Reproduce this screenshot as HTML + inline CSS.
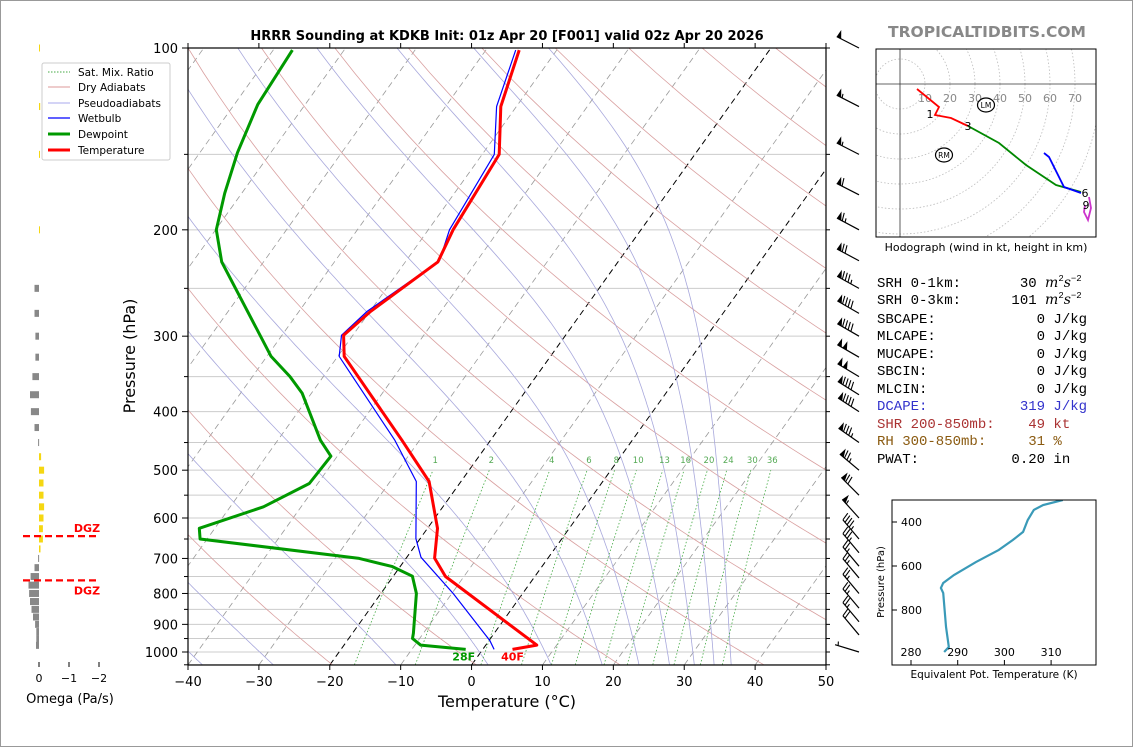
<!DOCTYPE html>
<html><head><meta charset="utf-8"><style>
html,body{margin:0;padding:0;background:#fff}
svg{display:block;font-family:"DejaVu Sans","Liberation Sans",sans-serif}
</style></head><body>
<svg id="s" width="1134" height="748" viewBox="0 0 1134 748">
<defs>
<clipPath id="mainclip"><rect x="188" y="48" width="638" height="617"/></clipPath>
<clipPath id="hodoclip"><rect x="876" y="49" width="220" height="188"/></clipPath>
<clipPath id="thclip"><rect x="892" y="500" width="204" height="165"/></clipPath>
</defs>
<rect x="0.5" y="0.5" width="1132" height="746" fill="#fff" stroke="#999"/>
<g id="bg" clip-path="url(#mainclip)"></g>
<g id="profiles" clip-path="url(#mainclip)"></g>
<rect x="188" y="48" width="638" height="617" fill="none" stroke="#000" stroke-width="1.2"/>
<g id="axes"></g>
<text x="507" y="40" text-anchor="middle" font-size="13" font-weight="bold">HRRR Sounding at KDKB Init: 01z Apr 20 [F001] valid 02z Apr 20 2026</text>
<text x="987" y="37" text-anchor="middle" font-size="15.5" font-weight="bold" fill="#888">TROPICALTIDBITS.COM</text>
<text x="507" y="707" text-anchor="middle" font-size="16">Temperature (°C)</text>
<text transform="translate(135,356) rotate(-90)" text-anchor="middle" font-size="16">Pressure (hPa)</text>
<g id="omega"></g>
<g id="barbs"></g>
<g id="hodo"></g>
<g id="theta"></g>
<g>
<rect x="42" y="63" width="128" height="97" rx="2" fill="#fff" stroke="#ccc"/>
<line x1="48" y1="72" x2="70" y2="72" stroke="#4a4" stroke-width="1" stroke-dasharray="1.5,1.5"/>
<text x="78" y="76" font-size="10.5">Sat. Mix. Ratio</text>
<line x1="48" y1="87" x2="70" y2="87" stroke="#d99" stroke-width="1"/>
<text x="78" y="91" font-size="10.5">Dry Adiabats</text>
<line x1="48" y1="103" x2="70" y2="103" stroke="#aae" stroke-width="1"/>
<text x="78" y="107" font-size="10.5">Pseudoadiabats</text>
<line x1="48" y1="118" x2="70" y2="118" stroke="#00f" stroke-width="1.2"/>
<text x="78" y="122" font-size="10.5">Wetbulb</text>
<line x1="48" y1="134" x2="70" y2="134" stroke="#090" stroke-width="3"/>
<text x="78" y="138" font-size="10.5">Dewpoint</text>
<line x1="48" y1="150" x2="70" y2="150" stroke="#f00" stroke-width="3"/>
<text x="78" y="154" font-size="10.5">Temperature</text>
</g>
<g font-family="Liberation Mono, DejaVu Sans Mono, monospace" font-size="14">
<text x="877" y="287" xml:space="preserve">SRH 0-1km:       30 <tspan font-style="italic" font-family="DejaVu Serif,serif">m</tspan><tspan font-size="9" dy="-6">2</tspan><tspan dy="6" font-style="italic" font-family="DejaVu Serif,serif">s</tspan><tspan font-size="9" dy="-6">−2</tspan></text>
<text x="877" y="304" xml:space="preserve">SRH 0-3km:      101 <tspan font-style="italic" font-family="DejaVu Serif,serif">m</tspan><tspan font-size="9" dy="-6">2</tspan><tspan dy="6" font-style="italic" font-family="DejaVu Serif,serif">s</tspan><tspan font-size="9" dy="-6">−2</tspan></text>
<text x="877" y="323" xml:space="preserve">SBCAPE:            0 J/kg</text>
<text x="877" y="340" xml:space="preserve">MLCAPE:            0 J/kg</text>
<text x="877" y="358" xml:space="preserve">MUCAPE:            0 J/kg</text>
<text x="877" y="375" xml:space="preserve">SBCIN:             0 J/kg</text>
<text x="877" y="393" xml:space="preserve">MLCIN:             0 J/kg</text>
<text x="877" y="410" xml:space="preserve" fill="#33c">DCAPE:           319 J/kg</text>
<text x="877" y="428" xml:space="preserve" fill="#a33">SHR 200-850mb:    49 kt</text>
<text x="877" y="445" xml:space="preserve" fill="#8a5a10">RH 300-850mb:     31 %</text>
<text x="877" y="463" xml:space="preserve">PWAT:           0.20 in</text>
</g>
</svg>
<script>
// ---------- sounding data ----------
const tempP = [990,974,750,699,624,522,446,324,299,273,226,200,150,125,100.8];
const tempT = [4.2,7.2,-12.6,-16.0,-18.6,-24.5,-32.5,-49.1,-51.3,-49.9,-45.4,-46.5,-47.6,-52.2,-55.3];
const dewP = [990,974,950,931,800,749,722,700,650,624,575,526,474,446,373,350,324,226,200,174,149,124,100.8];
const dewT = [-2.4,-9.2,-11.0,-11.4,-15.0,-17.3,-21.1,-26.6,-51.0,-52.2,-45.3,-41.2,-40.9,-44.0,-51.3,-54.7,-59.4,-75.9,-79.9,-82.4,-84.7,-86.7,-87.3];
const wbP = [990,957,800,697,649,522,446,324,299,273,225,200,150,125,100.8];
const wbT = [1.6,0.1,-9.8,-18.0,-20.6,-26.3,-33.5,-49.8,-51.6,-50.4,-45.3,-47.0,-48.3,-52.8,-55.8];
const windP = [100,125,150,175,200,225,250,275,300,325,350,375,400,450,500,550,600,650,685,721,754,800,846,891,937,1000];
const windSpd = [50,55,55,60,65,70,85,90,90,100,100,90,90,85,75,70,55,45,35,25,25,25,25,25,20,5];
const windDir = [297,297,297,297,298,298,299,300,300,300,301,302,303,305,310,315,318,320,320,320,320,320,320,320,320,287];
const omegaP = [100,125,150,200,250,275,300,325,350,375,400,425,450,475,500,525,550,575,600,625,650,675,700,725,750,775,800,825,850,875,900,925,950,975];
const omegaV = [-0.02,-0.04,-0.03,-0.03,0.15,0.15,0.12,0.12,0.22,0.3,0.27,0.15,0.03,-0.07,-0.17,-0.15,-0.15,-0.17,-0.15,-0.13,-0.13,-0.05,0.03,0.15,0.28,0.35,0.33,0.3,0.25,0.2,0.13,0.09,0.09,0.1];
const dgzP = [643,761];
const hodoRedU = [6.8,15.6,14,20.4,27.2];
const hodoRedV = [-2,-9.2,-12.4,-13.6,-16.8];
const hodoGreenU = [27.2,39.6,50.4,62.4,72.4];
const hodoGreenV = [-16.8,-23.6,-32.4,-40.4,-43.2];
const hodoBlueU = [57.6,59.6,65.6,72.4];
const hodoBlueV = [-27.6,-29.2,-41.2,-43.6];
const hodoMagU = [75.6,76.4,75.2,73.6,74];
const hodoMagV = [-45.2,-49.6,-54.4,-51.2,-48.4];
const thetaP = [991,968,877,723,700,677,641,582,527,482,445,391,345,323,300];
const thetaE = [287.1,288.1,287.5,286.9,286.4,286.9,289.2,293.9,298.8,301.8,304,305,306.3,308.3,312.5];
const tempTicks = [-40,-30,-20,-10,0,10,20,30,40,50];
const presTicks = [100,200,300,400,500,600,700,800,900,1000];
const mixRatios = [1,2,4,6,8,10,13,16,20,24,30,36];
const moistStart = [-58,-48,-38,-28,-10.7,2.3,11.2,18.4,23.6,27.9,31.4,34.2,36.6];

const NS='http://www.w3.org/2000/svg';
function mk(tag, attrs, parent){const e=document.createElementNS(NS,tag);for(const k in attrs)e.setAttribute(k,attrs[k]);parent.appendChild(e);return e;}
const Y = p => 48 + 604*Math.log10(p/100);
const X = (T,p) => 188 + (T+40)*7.089 + 0.715*(665 - Y(p));
const bg=document.getElementById('bg'), prof=document.getElementById('profiles'), axes=document.getElementById('axes');
const pts=(Ps,Ts)=>Ps.map((p,i)=>X(Ts[i],p).toFixed(1)+','+Y(p).toFixed(1)).join(' ');

for(let p=100;p<=1050;p+=50){
  const l=mk('line',{x1:188,x2:826,y1:Y(p),y2:Y(p),stroke:'#ccc','stroke-width':1},bg);
  
  
}
for(let T=-120;T<=50;T+=10){
  const blk=(T===0||T===-20);
  const l=mk('line',{x1:X(T,1050),y1:Y(1050),x2:X(T,100),y2:Y(100),stroke:blk?'#000':'#999','stroke-width':blk?1:0.8,'stroke-dasharray':'6,4'},bg);
  
  
}
for(let th=210;th<=530;th+=20){
  const P=[],Tt=[];
  for(let p=1050;p>=100;p-=10){P.push(p);Tt.push(th*Math.pow(p/1000,0.2857)-273.15);}
  const l=mk('polyline',{points:pts(P,Tt),fill:'none',stroke:'#d9a0a0','stroke-width':0.8},bg);
  
  
}
function es(T){return 6.112*Math.exp(17.67*T/(T+243.5));}
function dTdp(p,T){const Tk=T+273.15,rs=0.622*es(T)/(p-es(T)),Lv=2.501e6,Rd=287.04,Cp=1005.7;
  return (1/p)*(Rd*Tk+Lv*rs)/(Cp+Lv*Lv*rs*0.622/(Rd*Tk*Tk));}
moistStart.forEach(T0=>{
  const P=[],Tt=[];let T=T0,p=1050;
  while(p>=100){P.push(p);Tt.push(T);const dp=-5;
    const k1=dTdp(p,T),k2=dTdp(p+dp/2,T+k1*dp/2),k3=dTdp(p+dp/2,T+k2*dp/2),k4=dTdp(p+dp,T+k3*dp);
    T+=dp*(k1+2*k2+2*k3+k4)/6;p+=dp;}
  const l=mk('polyline',{points:pts(P,Tt),fill:'none',stroke:'#a8a8dc','stroke-width':0.8},bg);
  
  
});
function tdFromW(w,p){const e=w*p/(622+w);const a=Math.log(e/6.112);return 243.5*a/(17.67-a);}
mixRatios.forEach(w=>{
  const P=[],Tt=[];
  for(let p=1050;p>=500;p-=10){P.push(p);Tt.push(tdFromW(w,p));}
  const l=mk('polyline',{points:pts(P,Tt),fill:'none',stroke:'#4a4','stroke-width':0.8,'stroke-dasharray':'1.5,2'},bg);
  
  
  const t=mk('text',{x:X(tdFromW(w,490),490),y:Y(490)-2,'font-size':8.5,fill:'#5a5','text-anchor':'middle'},bg);
  t.textContent=w;
  
  
});
let l;
l=mk('polyline',{points:pts(wbP,wbT),fill:'none',stroke:'#00f','stroke-width':1.2},prof);

l=mk('polyline',{points:pts(dewP,dewT),fill:'none',stroke:'#090','stroke-width':3,'stroke-linejoin':'round'},prof);

l=mk('polyline',{points:pts(tempP,tempT),fill:'none',stroke:'#f00','stroke-width':3,'stroke-linejoin':'round'},prof);

let t=mk('text',{x:X(dewT[0],dewP[0])-2,y:Y(dewP[0])+11,'font-size':11,'font-weight':'bold',fill:'#090','text-anchor':'middle'},prof);
t.textContent=Math.round(dewT[0]*9/5+32)+'F';

t=mk('text',{x:X(tempT[0],tempP[0])+0,y:Y(tempP[0])+11,'font-size':11,'font-weight':'bold',fill:'#f00','text-anchor':'middle'},prof);
t.textContent=Math.round(tempT[0]*9/5+32)+'F';


tempTicks.forEach(T=>{
  const x=188+(T+40)*7.089;
  mk('line',{x1:x,x2:x,y1:665,y2:670,stroke:'#000'},axes);
  mk('line',{x1:x,x2:x,y1:48,y2:43,stroke:'#000'},axes);
  const tt=mk('text',{x:x,y:686,'font-size':13,'text-anchor':'middle'},axes);
  tt.textContent=T<0?'−'+(-T):T;
  
});
for(let p=100;p<=1050;p+=50){
  const y=Y(p),maj=p%100===0;
  mk('line',{x1:188,x2:maj?182:184,y1:y,y2:y,stroke:'#000'},axes);
  mk('line',{x1:826,x2:830,y1:y,y2:y,stroke:'#000'},axes);
}
presTicks.forEach(p=>{
  const tt=mk('text',{x:178,y:Y(p)+5,'font-size':13,'text-anchor':'end'},axes);
  tt.textContent=p;
  
});

const om=document.getElementById('omega');
const OX=v=>39-v*30;
omegaP.forEach((p,i)=>{
  const v=omegaV[i],x1=OX(v),x0=OX(0);
  const r=mk('rect',{x:Math.min(x0,x1),y:Y(p)-3.5,width:Math.max(Math.abs(x1-x0),1),height:7,fill:v>=0?'#888':'#f5d712'},om);
  
});
dgzP.forEach((p,i)=>{
  const d=mk('line',{x1:23,x2:99,y1:Y(p),y2:Y(p),stroke:'#f00','stroke-width':2.2,'stroke-dasharray':'7,4'},om);
  
  const dt=mk('text',{x:87,y:Y(p)+(i===0?-4:14),'font-size':11,'font-weight':'bold',fill:'#f00','text-anchor':'middle'},om);
  dt.textContent='DGZ';
  
});
[0,-1,-2].forEach(v=>{
  mk('line',{x1:OX(v),x2:OX(v),y1:662,y2:667,stroke:'#000'},om);
  const tt=mk('text',{x:OX(v),y:682,'font-size':11,'text-anchor':'middle'},om);
  tt.textContent=v===0?'0':'−'+(-v);
  
});
t=mk('text',{x:70,y:703,'font-size':13,'text-anchor':'middle'},om);
t.textContent='Omega (Pa/s)';


const bgp=document.getElementById('barbs');
windP.forEach((p,i)=>{
  const g=mk('g',{},bgp);
  
  const a=windDir[i]*Math.PI/180,ux=Math.sin(a),uy=-Math.cos(a),nx=-uy,ny=ux;
  const px=859,py=Y(p),L=25,ex=px+ux*L,ey=py+uy*L;
  mk('line',{x1:px,y1:py,x2:ex,y2:ey,stroke:'#000','stroke-width':1.2},g);
  let s=windSpd[i],pos=0;const bl=8,sp=3.2;
  const at=d=>[ex-ux*d,ey-uy*d];
  while(s>=47.5){const [ax,ay]=at(pos),[bx,by]=at(pos+5);
    mk('polygon',{points:`${ax},${ay} ${bx},${by} ${ax+nx*bl-ux*1},${ay+ny*bl-uy*1}`,fill:'#000'},g);pos+=6;s-=50;}
  while(s>=7.5){const [ax,ay]=at(pos);
    mk('line',{x1:ax,y1:ay,x2:ax+nx*bl+ux*2,y2:ay+ny*bl+uy*2,stroke:'#000','stroke-width':1.1},g);pos+=sp;s-=10;}
  if(s>=2.5){if(pos===0)pos=sp;const [ax,ay]=at(pos);
    mk('line',{x1:ax,y1:ay,x2:ax+nx*bl/2+ux,y2:ay+ny*bl/2+uy,stroke:'#000','stroke-width':1.1},g);}
});

const hd=document.getElementById('hodo');
const HX=u=>900+u*2.5, HY=v=>84-v*2.5;
const hc=mk('g',{'clip-path':'url(#hodoclip)'},hd);
for(let k=1;k<=8;k++){
  const c=mk('circle',{cx:900,cy:84,r:25*k,fill:'none',stroke:'#bbb','stroke-width':0.8,'stroke-dasharray':'1.5,2'},hc);
  
}
mk('line',{x1:900,x2:900,y1:49,y2:237,stroke:'#333','stroke-width':0.8},hc);
mk('line',{x1:876,x2:1096,y1:84,y2:84,stroke:'#333','stroke-width':0.8},hc);
for(let k=1;k<=7;k++){
  const tt=mk('text',{x:HX(10*k),y:102,'font-size':11,fill:'#888','text-anchor':'middle'},hc);
  tt.textContent=10*k;
  
}
[[hodoRedU,hodoRedV,'#f00','hodo-0-3km'],[hodoGreenU,hodoGreenV,'#080','hodo-3-6km'],[hodoBlueU,hodoBlueV,'#00f','hodo-blue-segment'],[hodoMagU,hodoMagV,'#c3c','hodo-9km-plus']].forEach(s=>{
  const pl=mk('polyline',{points:s[0].map((u,i)=>HX(u)+','+HY(s[1][i])).join(' '),fill:'none',stroke:s[2],'stroke-width':1.8},hc);
  
});
[['1',930,118],['3',968,130],['6',1085,197],['9',1086,209]].forEach(a=>{
  const tt=mk('text',{x:a[1],y:a[2],'font-size':11,'text-anchor':'middle'},hc);tt.textContent=a[0];
  
});
[['LM',986,105],['RM',944,155]].forEach(a=>{
  const c=mk('ellipse',{cx:a[1],cy:a[2],rx:8.5,ry:7,fill:'none',stroke:'#000','stroke-width':1.2},hc);
  
  const tt=mk('text',{x:a[1],y:a[2]+3,'font-size':7.5,'text-anchor':'middle'},hc);tt.textContent=a[0];
  
});
mk('rect',{x:876,y:49,width:220,height:188,fill:'none',stroke:'#000','stroke-width':1},hd);
t=mk('text',{x:986,y:251,'font-size':11,'text-anchor':'middle'},hd);
t.textContent='Hodograph (wind in kt, height in km)';


const th=document.getElementById('theta');
const TY=p=>522+(p-400)*44/200, TX=v=>911+(v-280)*4.67;
const tl=mk('polyline',{points:thetaP.map((p,i)=>TX(thetaE[i])+','+TY(p)).join(' '),fill:'none',stroke:'#3a9ab8','stroke-width':2.2,'clip-path':'url(#thclip)'},th);

mk('rect',{x:892,y:500,width:204,height:165,fill:'none',stroke:'#000','stroke-width':1},th);
[400,600,800].forEach(p=>{
  mk('line',{x1:892,x2:897,y1:TY(p),y2:TY(p),stroke:'#000'},th);
  const tt=mk('text',{x:901,y:TY(p)+4,'font-size':11},th);tt.textContent=p;
  
});
[280,290,300,310].forEach(v=>{
  mk('line',{x1:TX(v),x2:TX(v),y1:665,y2:660,stroke:'#000'},th);
  const tt=mk('text',{x:TX(v),y:656,'font-size':11,'text-anchor':'middle'},th);tt.textContent=v;
  
});
t=mk('text',{transform:'translate(884,582) rotate(-90)','font-size':10,'text-anchor':'middle'},th);
t.textContent='Pressure (hPa)';

t=mk('text',{x:994,y:678,'font-size':10.5,'text-anchor':'middle'},th);
t.textContent='Equivalent Pot. Temperature (K)';

</script>
</body></html>
